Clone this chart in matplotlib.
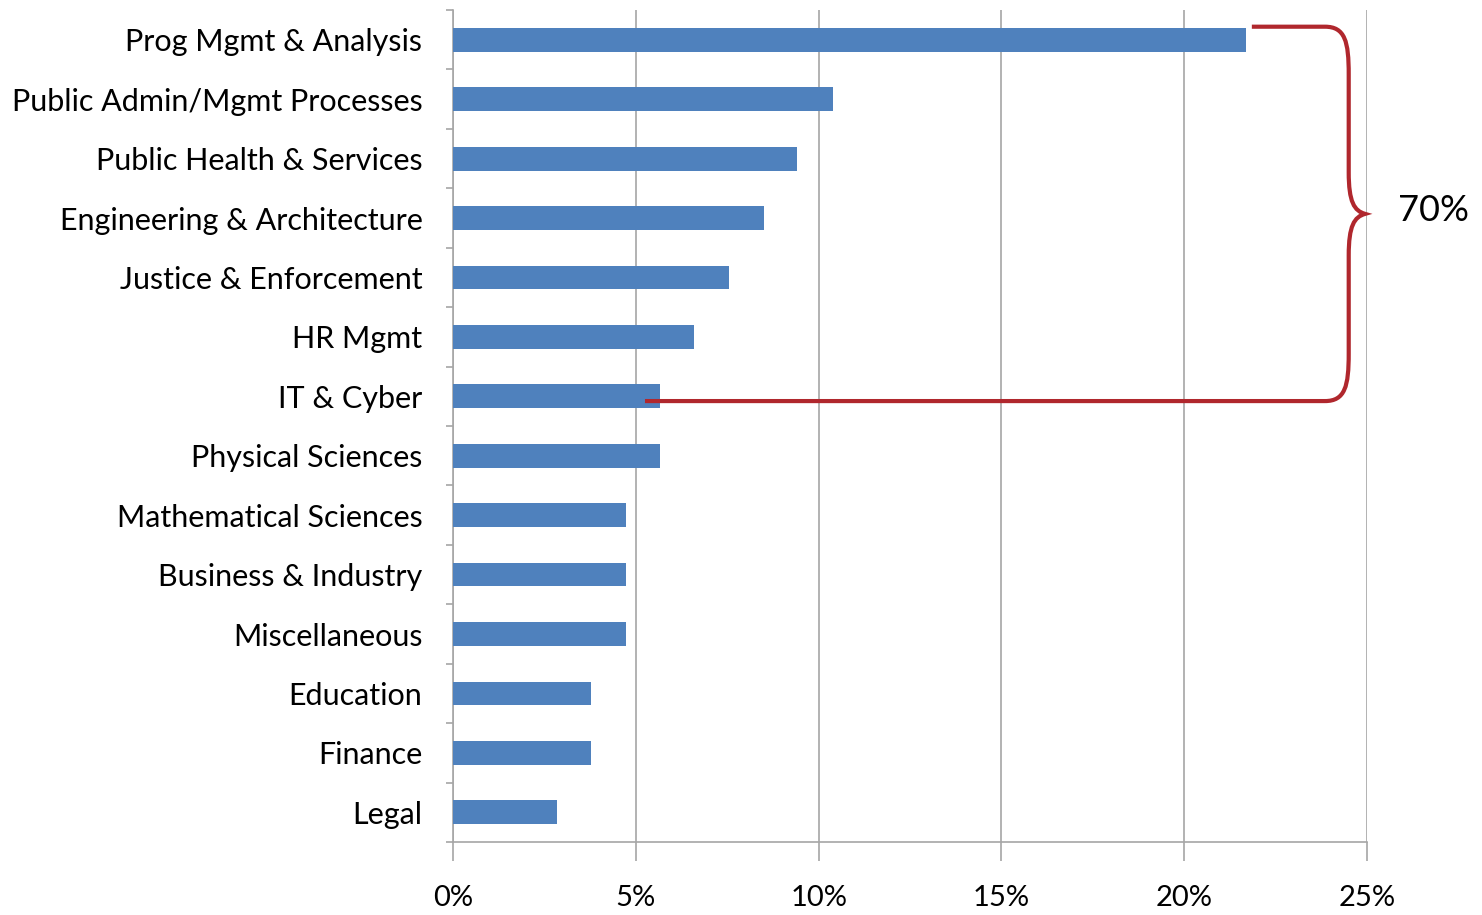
"""Occupational series share, horizontal bars with a 70% brace."""
import matplotlib
matplotlib.use("Agg")
import matplotlib.pyplot as plt
from matplotlib.path import Path
from matplotlib.patches import PathPatch
from matplotlib.ticker import FuncFormatter

plt.rcParams["font.family"] = ["Lato", "DejaVu Sans"]

categories = [
    "Prog Mgmt & Analysis", "Public Admin/Mgmt Processes", "Public Health & Services",
    "Engineering & Architecture", "Justice & Enforcement", "HR Mgmt", "IT & Cyber",
    "Physical Sciences", "Mathematical Sciences", "Business & Industry",
    "Miscellaneous", "Education", "Finance", "Legal",
]
share_pct = [21.7, 10.4, 9.4, 8.5, 7.55, 6.6, 5.66, 5.66, 4.72, 4.72, 4.72, 3.77, 3.77, 2.83]
brace_label = "70%"

BLUE = "#4F81BD"
RED = "#B0272D"
GRID = "#A6A6A6"

fig = plt.figure(figsize=(14.82, 9.15), dpi=100)
ax = fig.add_axes([0.3057, 0.0798, 0.6167, 0.9092])

y = list(range(len(categories)))
ax.barh(y, share_pct, height=0.4, color=BLUE, zorder=3)

ax.set_xlim(0, 25)
ax.set_ylim(len(categories) - 0.5, -0.5)
ax.set_xticks(range(0, 26, 5))
ax.xaxis.set_major_formatter(FuncFormatter(lambda v, _: f"{v:.0f}%"))
ax.grid(axis="x", color=GRID, lw=1.2, zorder=0)

ax.set_yticks(y)
ax.set_yticklabels(categories, fontsize=22)
ax.set_yticks([i - 0.5 for i in range(len(categories) + 1)], minor=True)
ax.tick_params(axis="y", which="major", length=0, pad=22)
ax.tick_params(axis="y", which="minor", length=5, color=GRID, width=1.2)
ax.tick_params(axis="x", length=14, color=GRID, width=1.2, pad=17, labelsize=21)

for s in ["top", "right"]:
    ax.spines[s].set_visible(False)
for s in ["left", "bottom"]:
    ax.spines[s].set_color(GRID)
    ax.spines[s].set_linewidth(1.2)

# brace spanning the first seven categories
y0, y1 = -0.22, 6.08
ym = (y0 + y1) / 2
xa, xb, xt = 23.85, 24.5, 24.95
verts = [
    (21.85, y0), (xa, y0),
    (xb - 0.1, y0), (xb, y0 + 0.25), (xb, y0 + 0.8),
    (xb, ym - 0.7),
    (xb, ym - 0.2), (xb + 0.15, ym - 0.05), (xt, ym),
    (xb + 0.15, ym + 0.05), (xb, ym + 0.2), (xb, ym + 0.7),
    (xb, y1 - 0.8),
    (xb, y1 - 0.25), (xb - 0.1, y1), (xa, y1),
    (5.25, y1),
]
codes = [Path.MOVETO, Path.LINETO,
         Path.CURVE4, Path.CURVE4, Path.CURVE4,
         Path.LINETO,
         Path.CURVE4, Path.CURVE4, Path.CURVE4,
         Path.CURVE4, Path.CURVE4, Path.CURVE4,
         Path.LINETO,
         Path.CURVE4, Path.CURVE4, Path.CURVE4,
         Path.LINETO]
ax.add_patch(PathPatch(Path(verts, codes), fill=False, edgecolor=RED, lw=3,
                       zorder=4, clip_on=False))
ax.text(25.85, ym - 0.05, brace_label, fontsize=26, va="center", ha="left", clip_on=False)

fig.savefig("out.png", dpi=100)
plt.close(fig)
